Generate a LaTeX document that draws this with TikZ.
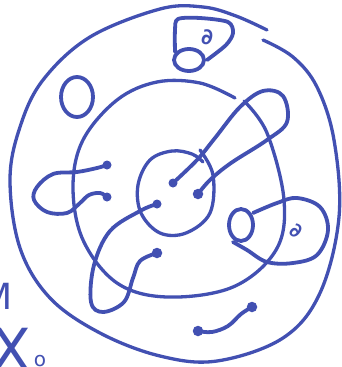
\documentclass[tikz,border=0pt]{standalone}
\usepackage{fontspec}
\setmainfont{DejaVu Sans}
\usepackage{tikz}
\definecolor{ink}{RGB}{66,80,178}
\tikzset{
  pen/.style={draw=ink, line width=3.8pt, line cap=round, line join=round},
  thin pen/.style={draw=ink, line width=3.3pt, line cap=round, line join=round},
  blob/.style={circle, fill=ink, inner sep=0pt, minimum size=10.5pt},
  smallblob/.style={circle, fill=ink, inner sep=0pt, minimum size=9pt},
  lab/.style={text=ink, inner sep=0pt}
}
\begin{document}
\begin{tikzpicture}[x=1pt, y=-1pt]
\useasboundingbox (0,0) rectangle (342,367);
\fill[white] (0,0) rectangle (342,367);

% dots
\node[smallblob] (a1) at (107,165) {};
\node[smallblob] (a2) at (107,197) {};
\node[smallblob] (b1) at (173,183) {};
\node[blob] (b2) at (198,194) {};
\node[smallblob] (b3) at (157,204) {};
\node[blob] (b4) at (157,253) {};
\node[blob] (c1) at (198,331) {};
\node[blob] (c2) at (252,307) {};

% outer circle (open at top right)
\draw[thin pen] plot[smooth, tension=0.6] coordinates {
  (263,40) (293,57) (317,87) (334,140) (339,217) (320,293) (283,338)
  (217,361) (160,356) (100,333) (50,298) (20,248) (10,180) (20,127)
  (43,80) (90,37) (160,9) (203,7) (236,16) (267,30)};

% middle circle
\draw[thin pen] plot[smooth, tension=0.6] coordinates {
  (244,101) (267,133) (284,200) (276,250) (233,287) (167,297) (117,283)
  (83,240) (73,187) (83,140) (117,100) (157,82) (200,83) (235,98)};

% inner circle
\draw[thin pen] plot[smooth, tension=0.6] coordinates {
  (200,150) (213,175) (210,213) (186,233) (160,233) (141,213)
  (138,185) (150,160) (172,151) (192,154) (203,162)};

% small circle top-left
\draw[pen] (77,97) ellipse[x radius=16, y radius=20];

% top box with small ellipse
\draw[pen] plot[smooth, tension=0.5] coordinates {
  (175,52) (175,30) (178,19) (200,18) (228,22) (233,33) (226,45) (207,60)};
\draw[pen] (189,60) ellipse[x radius=15, y radius=11];
\node[lab, font=\bfseries\fontsize{22}{22}\selectfont] (pd1) at (207,37) {∂};

% left loop
\draw[pen] plot[smooth, tension=0.6] coordinates {
  (a1) (97,168) (77,172) (53,174) (37,187) (34,200) (47,212) (67,213)
  (80,203) (89,195) (100,193) (a2)};

% up-right loop
\draw[pen] plot[smooth, tension=0.6] coordinates {
  (b1) (197,160) (215,138) (240,107) (263,91) (283,96) (287,122)
  (267,140) (231,163) (210,180) (b2)};

% lower-left loop
\draw[pen] plot[smooth, tension=0.6] coordinates {
  (b3) (140,211) (110,231) (94,265) (91,302) (103,312) (124,302)
  (133,278) (140,261) (b4)};

% right loop with small circle
\draw[pen] (241,225) ellipse[x radius=12, y radius=16];
\draw[pen] plot[smooth, tension=0.6] coordinates {
  (253,213) (277,203) (297,198) (320,207) (328,230) (317,255) (293,263)
  (267,262) (247,250) (233,242)};
\node[lab, font=\bfseries\fontsize{20}{20}\selectfont, rotate=-25] (pd2) at (296,231) {∂};

% bottom connector
\draw[pen] plot[smooth, tension=0.6] coordinates {
  (c1) (212,332) (228,326) (241,314) (c2)};

% left labels (cut by the edge, as in the reference)
\node[lab, font=\fontsize{36}{36}\selectfont] (m) at (-3,296) {M};
\node[lab, font=\fontsize{58}{58}\selectfont, anchor=base] (x0) at (11,370) {X};
\node[lab, font=\fontsize{20}{20}\selectfont] (sub) at (40,361) {o};
\end{tikzpicture}
\end{document}
